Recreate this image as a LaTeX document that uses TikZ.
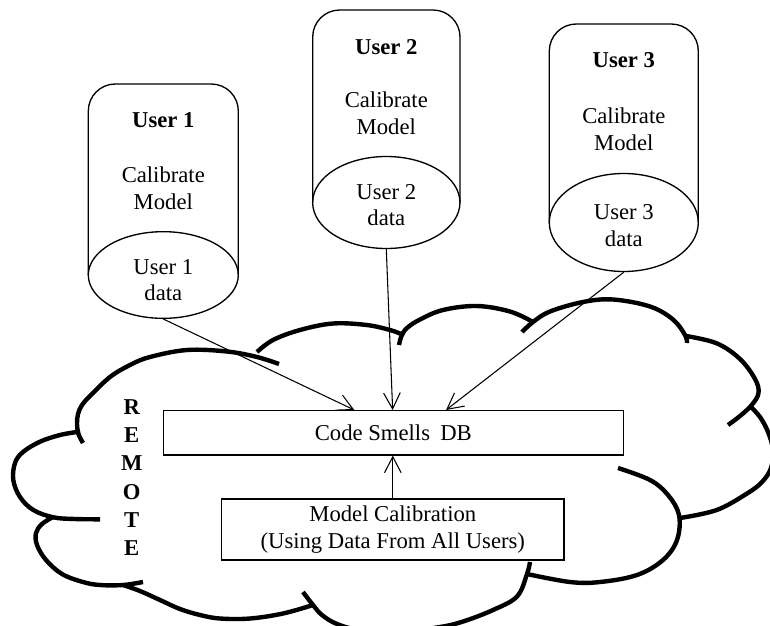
\documentclass[tikz,border=0pt]{standalone}
\usepackage{fontspec}
\setmainfont{Liberation Serif}
\usetikzlibrary{arrows.meta,shapes.geometric,calc}
\begin{document}
\begin{tikzpicture}[x=0.75pt,y=-0.75pt,
  txt/.style={font=\fontsize{17}{20}\selectfont, align=center, inner sep=0pt},
  ttl/.style={font=\fontsize{17}{20}\selectfont\bfseries, align=center, inner sep=0pt},
  body/.style={draw, line width=1pt, rounded corners=20.25pt},
  datanode/.style={ellipse, draw, line width=1pt, inner sep=0pt},
  boxnode/.style={draw, line width=1pt, inner sep=0pt, txt},
  conn/.style={line width=0.8pt, -{Straight Barb[length=12pt,width=12.5pt]}},
  cloudline/.style={line width=3.3pt}
]
\useasboundingbox (0,0) rectangle (770,625);

% ---------- cloud ----------
\begin{scope}
\clip (0,0) rectangle (770,625);
\draw[cloudline] plot[smooth,tension=0.6] coordinates {(83,443) (78.5,434) (77,424) (78,414) (82,405) (90,396) (110,377) (130,365) (150,357) (187,350) (227,351.5) (257,357) (279,364)};
\draw[cloudline] plot[smooth,tension=0.6] coordinates {(257,352) (273,340) (300,330) (333,323.5) (366.7,325) (390,330) (401,334)};
\draw[cloudline] plot[smooth,tension=0.6] coordinates {(399,345) (401.5,336) (407,328) (420,319.5) (443,310) (476.7,306) (510,311.5) (533,322)};
\draw[cloudline] plot[smooth,tension=0.6] coordinates {(522,332) (533,322) (550,311.5) (583,302) (613,299.5) (650,306.5) (673,319.5) (685,335) (687,343)};
\draw[cloudline] plot[smooth,tension=0.6] coordinates {(686,336) (716.7,343.3) (740,359) (755,379) (758.5,393) (751.7,405) (740,416) (728,425)};
\draw[cloudline] plot[smooth,tension=0.6] coordinates {(750,406) (760,417) (768,432) (773,450) (771,468) (762,482) (747,493.5) (716.7,510) (680,518)};
\draw[cloudline] plot[smooth,tension=0.6] coordinates {(618,468) (650,480) (668,495) (679,515) (677,540) (663,560) (637,575) (600,582) (570,582) (527,574)};
\draw[cloudline] plot[smooth,tension=0.6] coordinates {(530,562) (527,574) (517,596.5) (493,610) (463,621.5) (440,627) (400,632) (360,630) (337,624) (322,615) (313,605) (303,592)};
\draw[cloudline] plot[smooth,tension=0.6] coordinates {(313,605) (283,613.5) (250,618.5) (220,618.5) (200,615) (180,609) (160,600) (140,591) (123,585)};
\draw[cloudline] plot[smooth,tension=0.6] coordinates {(143,582) (123,585) (100,585) (83,582) (62,574) (46,560) (37,545) (36,533) (42,524) (53,517)};
\draw[cloudline] plot[smooth,tension=0.6] coordinates {(100,519.3) (75,519) (53.3,517.3) (33.3,510) (20,497) (13.3,480) (15,463) (23,452) (40,441.7) (60,435) (77,432)};
\end{scope}

% ---------- users ----------
\draw[body] (88.3,275) -- (88.3,84) -- (238.3,84) -- (238.3,275);
\node[datanode, minimum width=112.5pt, minimum height=65pt] (u1d) at (163.3,275) {};
\node[ttl] (u1t) at (163.3,120) {User 1};
\node[txt] (u1c) at (163.3,188.3) {Calibrate\\Model};
\node[txt] (u1x) at (163.3,280) {User 1\\data};

\draw[body] (312.7,202.5) -- (312.7,10) -- (460,10) -- (460,202.5);
\node[datanode, minimum width=110.5pt, minimum height=69pt] (u2d) at (386.3,202.5) {};
\node[ttl] (u2t) at (386.3,46.7) {User 2};
\node[txt] (u2c) at (386.3,113.3) {Calibrate\\Model};
\node[txt] (u2x) at (386.3,205) {User 2\\data};

\draw[body] (549.3,222.5) -- (549.3,24) -- (698.3,24) -- (698.3,222.5);
\node[datanode, minimum width=111.75pt, minimum height=73.5pt] (u3d) at (623.8,222.5) {};
\node[ttl] (u3t) at (623.8,60) {User 3};
\node[txt] (u3c) at (623.8,129) {Calibrate\\Model};
\node[txt] (u3x) at (623.8,225.8) {User 3\\data};

% ---------- remote boxes ----------
\node[boxnode, minimum width=345pt, minimum height=33.2pt] (db) at (393.3,432.8) {Code Smells\hspace{0.45em}DB};
\node[boxnode, minimum width=256.7pt, minimum height=45.75pt] (mc) at (392.8,529.5) {Model Calibration\\(Using Data From All Users)};
\node[font=\fontsize{17}{21.2}\selectfont\bfseries, align=center, inner sep=0pt] (remote) at (131.7,477.5) {R\\E\\M\\O\\T\\E};

% ---------- connectors ----------
\draw[conn] (u1d.south) -- ($(db.north west)+(191.7,0)$);
\draw[conn] (u2d.south) -- ($(db.north west)+(230,0)$);
\draw[conn] (u3d.south) -- ($(db.north west)+(283.4,0)$);
\draw[conn] (mc.north) -- (mc.north |- db.south);
\end{tikzpicture}
\end{document}
